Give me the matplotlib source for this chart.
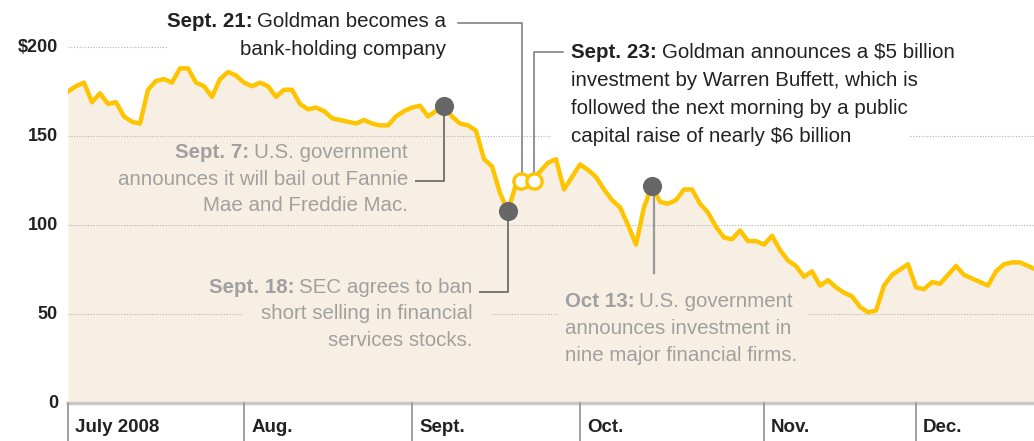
import numpy as np
import matplotlib
matplotlib.use("Agg")
import matplotlib.pyplot as plt

plt.rcParams['font.family'] = ['Liberation Sans', 'DejaVu Sans']

# Goldman Sachs closing price, one value per trading day (July 1 2008 ... mid Dec 2008)
prices = [
    175, 178, 180, 169, 174, 168, 169, 161, 158, 157,
    176, 181, 182, 180, 188, 188, 180, 178, 172, 182,
    186, 184, 180, 178, 180, 178, 172, 176, 176, 168,
    165, 166, 164, 160, 159, 158, 157, 159, 157, 156,
    156, 161, 164, 166, 167, 161, 164, 167, 161, 157,
    156, 153, 137, 133, 118, 108, 123, 125, 125, 130,
    135, 137, 120, 127, 134, 131, 127, 120, 114, 110,
    100, 89, 110, 122, 113, 112, 114, 120, 120, 112,
    107, 99, 93, 92, 97, 91, 91, 89, 94, 86,
    80, 77, 71, 74, 66, 69, 65, 62, 60, 54,
    51, 52, 66, 72, 75, 78, 65, 64, 68, 67,
    72, 77, 72, 70, 68, 66, 74, 78, 79, 79,
    77, 75,
]
days = np.arange(len(prices))

month_labels = ["July 2008", "Aug.", "Sept.", "Oct.", "Nov.", "Dec."]
month_starts = [0, 22, 43, 64, 87, 106]

ytick_values = [0, 50, 100, 150, 200]
ytick_labels = ["0", "50", "100", "150", "$200"]

# event markers (trading-day position, price)
filled_days = [47, 55, 73]
filled_prices = [167, 108, 122]
open_days = [56.6, 58.2]
open_prices = [125, 125]

LINE = "#FFC400"
FILL = "#F7EFE3"
DOT = "#666666"
GRAY_TXT = "#A0A0A0"
LEADER = "#777777"

fig = plt.figure(figsize=(10.34, 4.41), dpi=100)
ax = fig.add_axes([68 / 1034, 0, 966 / 1034, 1])
ax.set_xlim(0, 120.75)
ax.set_ylim(-21.3, 226.4)
ax.axis("off")

ax.fill_between(days, prices, 0, color=FILL, lw=0, zorder=1)

# dotted gridlines, broken where notes sit
grid_spans = {200: [(0, 12.4)], 150: [(0, 60.3), (105.3, 121)],
              100: [(0, 121)], 50: [(0, 21.9), (53, 61.2), (92.5, 121)]}
for level, spans in grid_spans.items():
    for a, b in spans:
        ax.plot([a, b], [level, level], color="#b5b5b5", lw=0.8,
                ls=(0, (1, 1.5)), zorder=2)

ax.plot(days, prices, color=LINE, lw=3.2, solid_joinstyle="round", zorder=4)

# y labels
for v, lab in zip(ytick_values, ytick_labels):
    ax.text(-1.25, v, lab, ha="right", va="center", fontsize=13,
            fontweight="bold", color="#222222", clip_on=False)

# x axis baseline, month ticks and labels
ax.plot([0, 121], [0, 0], color="#c8c8c8", lw=2.5, zorder=3, clip_on=False)
for d, lab in zip(month_starts, month_labels):
    ax.plot([d, d], [0, -22], color="#999999", lw=1.3, zorder=3, clip_on=False)
    ax.text(d + 0.9, -13.8, lab, ha="left", va="center", fontsize=13.5,
            fontweight="bold", color="#222222")


def note(x, y, lines, bold, align, color, fs=14.8, step=15.4):
    """First line starts with a bold prefix; lines stacked downward."""
    for i, line in enumerate(lines):
        yy = y - i * step
        if i == 0:
            if align == "left":
                b = ax.text(x, yy, bold, ha="left", va="baseline", fontsize=fs,
                            fontweight="bold", color=color)
                ax.annotate(line, xy=(1, yy), xycoords=(b, "data"),
                            xytext=(3.5, 0), textcoords="offset points",
                            ha="left", va="baseline", fontsize=fs, color=color)
            else:
                r = ax.text(x, yy, line, ha="right", va="baseline", fontsize=fs,
                            color=color)
                ax.annotate(bold, xy=(0, yy), xycoords=(r, "data"),
                            xytext=(-3.5, 0), textcoords="offset points",
                            ha="right", va="baseline", fontsize=fs,
                            fontweight="bold", color=color)
        else:
            ax.text(x, yy, line, ha=align, va="baseline", fontsize=fs, color=color)


note(47.3, 211, ["Goldman becomes a", "bank-holding company"], "Sept. 21:",
     "right", "#222222", step=15.7)
note(62.9, 194, ["Goldman announces a $5 billion",
                 "investment by Warren Buffett, which is",
                 "followed the next morning by a public",
                 "capital raise of nearly $6 billion"], "Sept. 23:",
     "left", "#222222", step=15.7)
note(42.5, 137.5, ["U.S. government",
                   "announces it will bail out Fannie",
                   "Mae and Freddie Mac."], "Sept. 7:", "right", GRAY_TXT, step=14.9)
note(50.6, 62, ["SEC agrees to ban",
                "short selling in financial",
                "services stocks."], "Sept. 18:", "right", GRAY_TXT, step=15.0)
note(62.1, 53.8, ["U.S. government",
                  "announces investment in",
                  "nine major financial firms."], "Oct 13:", "left", GRAY_TXT, step=15.0)

# leader lines
ax.plot([47.0, 47.0, 43.5], [167, 125, 125], color=LEADER, lw=1.4, zorder=3)
ax.plot([55.0, 55.0, 51.5], [108, 62.5, 62.5], color=LEADER, lw=1.4, zorder=3)
ax.plot([73.2, 73.2], [122, 73], color="#999999", lw=1.6, zorder=3)
ax.plot([48.8, 56.8, 56.8], [213.5, 213.5, 130], color=LEADER, lw=1.1, zorder=3)
ax.plot([61.9, 58.3, 58.3], [197.2, 197.2, 130], color=LEADER, lw=1.1, zorder=3)

ax.scatter(filled_days, filled_prices, s=190, color=DOT, zorder=6, lw=0)
ax.scatter(open_days, open_prices, s=120, facecolor="white", edgecolor=LINE,
           lw=2.4, zorder=6)

fig.savefig("out.png", dpi=100)
